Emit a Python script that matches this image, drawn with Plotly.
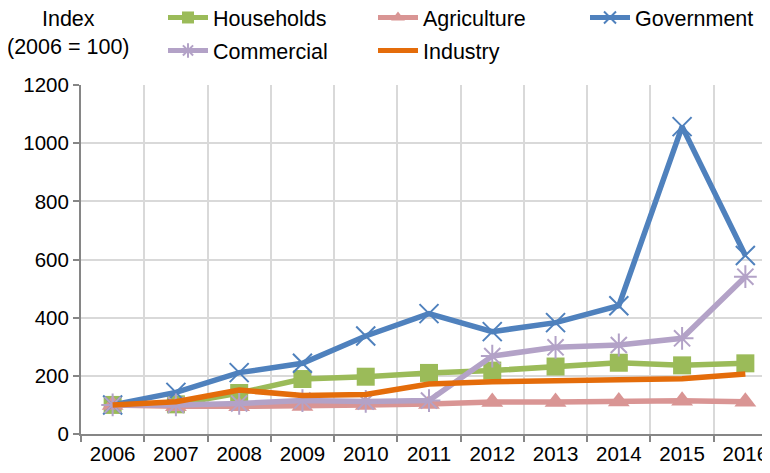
import plotly.graph_objects as go

years = ["2006", "2007", "2008", "2009", "2010", "2011", "2012", "2013", "2014", "2015", "2016"]
households = [100, 102, 141, 189, 197, 210, 218, 232, 245, 236, 243]
agriculture = [100, 95, 95, 96, 100, 103, 110, 110, 112, 114, 111]
government = [100, 143, 211, 243, 337, 414, 352, 383, 441, 1057, 614]
commercial = [100, 100, 105, 115, 112, 115, 268, 298, 306, 329, 541]
industry = [100, 111, 151, 132, 136, 172, 180, 182, 186, 190, 206]

FONT = "Liberation Sans, Arial"
FS = 20.5
LFS = 21.5

fig = go.Figure()
series = [
    ("Households", households, "#9BBB59", "square", 18, 0, "legend"),
    ("Agriculture", agriculture, "#D99594", "triangle-up", 19, 0, "legend"),
    ("Government", government, "#4F81BD", "x-thin-open", 19, 2, "legend3"),
    ("Commercial", commercial, "#B3A2C7", "asterisk-open", 19, 2, "legend2"),
    ("Industry", industry, "#E46C0A", "circle", 0, 0, "legend2"),
]
for name, vals, col, sym, size, mlw, lg in series:
    mode = "lines+markers" if size > 0 else "lines"
    fig.add_trace(go.Scatter(
        x=years, y=vals, name=name, mode=mode, legend=lg,
        line=dict(color=col, width=5.5),
        marker=dict(symbol=sym, size=size, color=col, line=dict(color=col, width=mlw)),
    ))

PW = 696
LX = (155 - 73) / PW
GX = (577 - 73) / PW
common = dict(orientation="h", xanchor="left", yanchor="top",
              entrywidth=155, entrywidthmode="pixels", itemsizing="constant",
              font=dict(size=LFS), itemwidth=40, bgcolor="rgba(0,0,0,0)")
fig.update_layout(
    width=770, height=473,
    margin=dict(l=73, r=1, t=77, b=47, autoexpand=False),
    paper_bgcolor="white", plot_bgcolor="white",
    font=dict(family=FONT, size=FS, color="#000000"),
    showlegend=True,
    legend=dict(x=LX, y=1 + 88 / 349, **common),
    legend3=dict(x=GX, y=1 + 88 / 349, **common),
    legend2=dict(x=LX, y=1 + 55 / 349, **common),
)
fig.update_xaxes(
    type="category", range=[-0.5, 10.5], tickson="boundaries",
    showgrid=True, gridcolor="#D9D9D9", gridwidth=2,
    showline=True, linecolor="#868686", linewidth=2,
    ticks="outside", ticklen=6, tickcolor="#868686", tickwidth=2,
    tickfont=dict(family=FONT, size=FS),
)
fig.update_yaxes(
    range=[0, 1200], dtick=200, tick0=0,
    showgrid=True, gridcolor="#D9D9D9", gridwidth=2,
    showline=True, linecolor="#868686", linewidth=2,
    ticks="outside", ticklen=6, tickcolor="#868686", tickwidth=2,
    tickfont=dict(family=FONT, size=FS), zeroline=False,
)
fig.add_annotation(text="Index<br>(2006 = 100)", xref="paper", yref="paper",
                   x=(68 - 81) / PW, y=1 + 79 / 349, xanchor="center", yanchor="top",
                   showarrow=False, align="center", borderpad=0,
                   font=dict(family=FONT, size=LFS))
fig.write_html("out.html")
